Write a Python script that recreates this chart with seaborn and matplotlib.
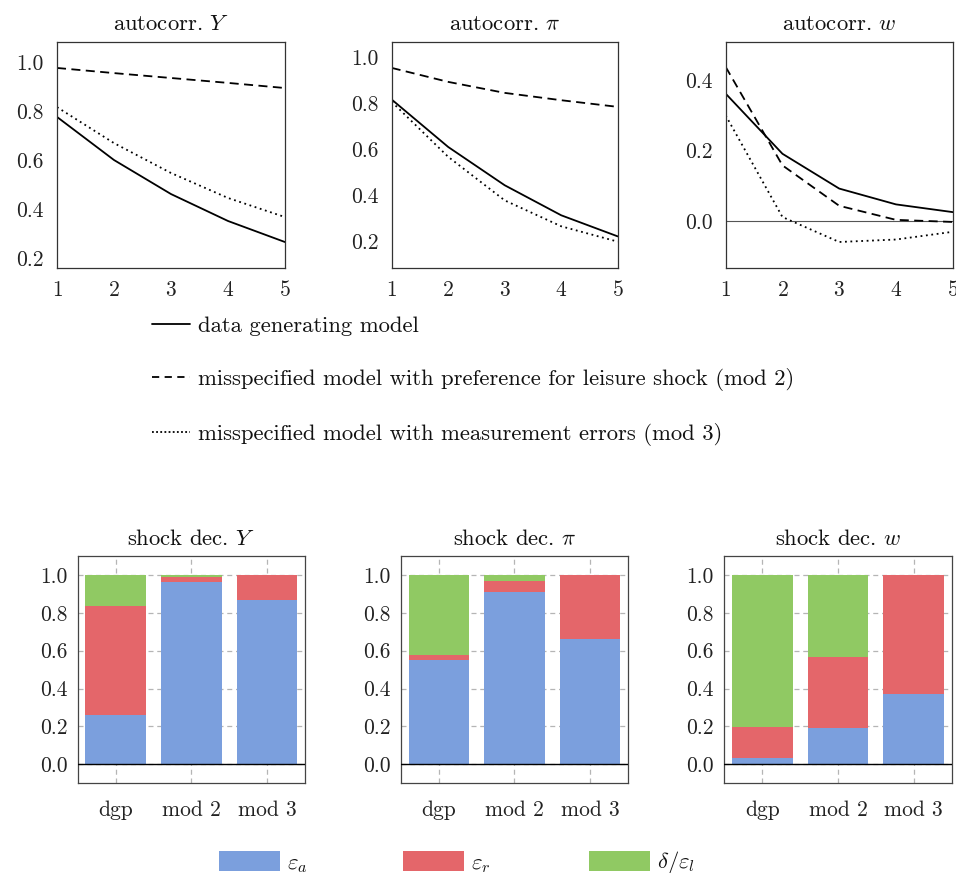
import matplotlib
matplotlib.use("Agg")
import matplotlib.pyplot as plt
import seaborn as sns
import pandas as pd
from matplotlib.lines import Line2D
from matplotlib.patches import Patch
from matplotlib.ticker import FormatStrFormatter

# ---------------- data ----------------
lags = [1, 2, 3, 4, 5]
models = ["dgp", "mod 2", "mod 3"]

acorr_Y_dgp = [0.776, 0.600, 0.461, 0.351, 0.265]
acorr_Y_mod2 = [0.976, 0.955, 0.935, 0.915, 0.894]
acorr_Y_mod3 = [0.816, 0.669, 0.547, 0.445, 0.367]

acorr_pi_dgp = [0.817, 0.610, 0.443, 0.312, 0.220]
acorr_pi_mod2 = [0.955, 0.894, 0.846, 0.814, 0.785]
acorr_pi_mod3 = [0.807, 0.567, 0.377, 0.264, 0.197]

acorr_w_dgp = [0.362, 0.191, 0.092, 0.047, 0.025]
acorr_w_mod2 = [0.438, 0.158, 0.043, 0.003, -0.003]
acorr_w_mod3 = [0.300, 0.011, -0.060, -0.053, -0.031]

# shock decomposition shares (eps_a, eps_r, delta/eps_l) for dgp, mod 2, mod 3
dec_Y_a = [0.260, 0.965, 0.868]
dec_Y_r = [0.576, 0.023, 0.132]
dec_Y_l = [0.164, 0.012, 0.000]

dec_pi_a = [0.551, 0.912, 0.662]
dec_pi_r = [0.026, 0.056, 0.338]
dec_pi_l = [0.423, 0.032, 0.000]

dec_w_a = [0.035, 0.194, 0.373]
dec_w_r = [0.164, 0.375, 0.627]
dec_w_l = [0.801, 0.431, 0.000]

line_labels = ["data generating model",
               "misspecified model with preference for leisure shock (mod 2)",
               "misspecified model with measurement errors (mod 3)"]
shock_labels = [r"$\varepsilon_a$", r"$\varepsilon_r$", r"$\delta/\varepsilon_l$"]

# ---------------- style ----------------
FS = 16.3
TFS = 15.5
sns.set_theme(style="white")
plt.rcParams.update({
    "font.family": "serif",
    "font.serif": ["cmr10", "DejaVu Serif"],
    "mathtext.fontset": "cm",
    "axes.formatter.use_mathtext": True,
    "font.size": FS,
    "axes.edgecolor": "#333333",
    "axes.linewidth": 0.9,
    "xtick.color": "#222222",
    "ytick.color": "#222222",
    "text.color": "#111111",
})

W, H = 956, 873
fig = plt.figure(figsize=(W / 100, H / 100), dpi=100)


def px_axes(l, t, r, b):
    return fig.add_axes([l / W, 1 - b / H, (r - l) / W, (b - t) / H])


C_BLUE, C_RED, C_GREEN = "#7B9FDD", "#E4666A", "#90C963"
DASHES = {"dgp": "", "mod 2": (5, 3), "mod 3": (1, 2)}

# ---------------- autocorrelation panels ----------------
top_specs = [
    ((57, 42, 285, 268), r"autocorr. $Y$", acorr_Y_dgp, acorr_Y_mod2, acorr_Y_mod3,
     (0.159, 1.082), [0.2, 0.4, 0.6, 0.8, 1.0]),
    ((391.7, 42, 617.7, 268), r"autocorr. $\pi$", acorr_pi_dgp, acorr_pi_mod2, acorr_pi_mod3,
     (0.082, 1.068), [0.2, 0.4, 0.6, 0.8, 1.0]),
    ((725.7, 42, 952.7, 268), r"autocorr. $w$", acorr_w_dgp, acorr_w_mod2, acorr_w_mod3,
     (-0.134, 0.509), [0.0, 0.2, 0.4]),
]

for box, title, s_dgp, s_m2, s_m3, ylim, yt in top_specs:
    ax = px_axes(*box)
    df = pd.DataFrame({
        "lag": lags * 3,
        "value": s_dgp + s_m2 + s_m3,
        "model": ["dgp"] * 5 + ["mod 2"] * 5 + ["mod 3"] * 5,
    })
    if ylim[0] < 0:
        ax.axhline(0, color="#555555", lw=0.8, zorder=1)
    sns.lineplot(data=df, x="lag", y="value", style="model", dashes=DASHES,
                 color="black", lw=1.3, legend=False, ax=ax)
    ax.set_xlim(1, 5)
    ax.set_ylim(*ylim)
    ax.set_xticks(lags)
    ax.set_yticks(yt)
    ax.yaxis.set_major_formatter(FormatStrFormatter("%.1f"))
    ax.set_xlabel("")
    ax.set_ylabel("")
    ax.set_title(title, pad=9, fontsize=FS)
    ax.tick_params(axis="y", direction="inout", length=9, width=0.9, pad=5, labelsize=TFS)
    ax.tick_params(axis="x", direction="inout", length=9, width=0.9, pad=4.5, labelsize=TFS)
    for s in ax.spines.values():
        s.set_visible(True)

# line legend
line_handles = [Line2D([], [], color="black", lw=1.3, ls="-"),
                Line2D([], [], color="black", lw=1.3, dashes=(4, 3)),
                Line2D([], [], color="black", lw=1.3, dashes=(1, 1.3))]
fig.legend(line_handles, line_labels, loc="upper left",
           bbox_to_anchor=(152 / W, 1 - 316 / H), frameon=False,
           borderpad=0, borderaxespad=0, handlelength=1.68, handletextpad=0.35,
           labelspacing=1.42, fontsize=FS)

# ---------------- shock decomposition panels ----------------
bot_specs = [
    ((77.7, 556, 305, 783.3), r"shock dec. $Y$", dec_Y_a, dec_Y_r, dec_Y_l),
    ((401, 556, 627.7, 783.3), r"shock dec. $\pi$", dec_pi_a, dec_pi_r, dec_pi_l),
    ((724.3, 556, 951.7, 783.3), r"shock dec. $w$", dec_w_a, dec_w_r, dec_w_l),
]

for box, title, sa, sr, sl in bot_specs:
    ax = px_axes(*box)
    top = [a + r + l for a, r, l in zip(sa, sr, sl)]
    mid = [a + r for a, r in zip(sa, sr)]
    sns.barplot(x=models, y=top, color=C_GREEN, saturation=1, width=0.8,
                linewidth=0, ax=ax, zorder=2)
    sns.barplot(x=models, y=mid, color=C_RED, saturation=1, width=0.8,
                linewidth=0, ax=ax, zorder=2)
    sns.barplot(x=models, y=sa, color=C_BLUE, saturation=1, width=0.8,
                linewidth=0, ax=ax, zorder=2)
    ax.axhline(0, color="black", lw=1.0, zorder=3)
    ax.set_xlim(-0.5, 2.5)
    ax.set_ylim(-0.1, 1.1)
    ax.set_yticks([0.0, 0.2, 0.4, 0.6, 0.8, 1.0])
    ax.yaxis.set_major_formatter(FormatStrFormatter("%.1f"))
    ax.set_axisbelow(True)
    ax.grid(True, axis="both", color="#b5b5b5", lw=0.9, ls=(0, (4, 3)), zorder=0)
    ax.set_xlabel("")
    ax.set_ylabel("")
    ax.set_title(title, pad=8, fontsize=FS)
    ax.tick_params(axis="y", direction="inout", length=8, width=0.9, pad=3.5, labelsize=TFS)
    ax.tick_params(axis="x", direction="inout", length=12, width=1.0, pad=6.3,
                   labelsize=TFS, color="black")
    for s in ax.spines.values():
        s.set_visible(True)
        s.set_color("#444444")

# shock legend: one entry each, placed at the reference positions
patch_colors = [C_BLUE, C_RED, C_GREEN]
patch_x = [219, 403, 589]
for col, lab, x0 in zip(patch_colors, shock_labels, patch_x):
    fig.legend([Patch(facecolor=col, edgecolor="none")], [lab], loc="center left",
               bbox_to_anchor=(x0 / W, 1 - 863 / H), frameon=False,
               borderpad=0, borderaxespad=0, handlelength=2.7, handleheight=0.97,
               handletextpad=0.31, fontsize=FS)

fig.savefig("out.png", dpi=100)
